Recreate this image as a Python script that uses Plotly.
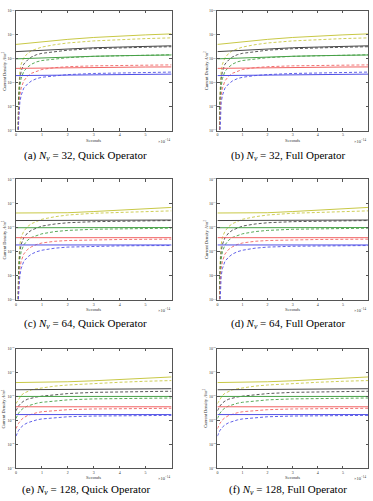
import plotly.graph_objects as go

# ---------------- data (time in units of 1e-14 s) ----------------
t_solid = [0, 1, 2, 3, 4, 5, 6]
t_dash_early = [0.07, 0.1, 0.15, 0.2, 0.3, 0.45, 0.6, 0.8, 1.0, 1.5, 2, 3, 4, 5, 6]
t_dash_128 = [0, 0.1, 0.2, 0.3, 0.45, 0.6, 0.8, 1.0, 1.5, 2, 3, 4, 5, 6]

# N_v = 32
n32_solid_yellow = [4.0e16, 5.2e16, 6.5e16, 7.8e16, 9.0e16, 1.0e17, 1.1e17]
n32_solid_black = [2.0e16, 2.3e16, 2.6e16, 2.9e16, 3.1e16, 3.3e16, 3.5e16]
n32_solid_green = [1.0e16, 1.1e16, 1.2e16, 1.28e16, 1.35e16, 1.4e16, 1.45e16]
n32_solid_red = [4.0e15, 4.15e15, 4.3e15, 4.4e15, 4.5e15, 4.55e15, 4.6e15]
n32_solid_blue = [2.0e15, 2.07e15, 2.13e15, 2.18e15, 2.22e15, 2.26e15, 2.3e15]
n32_dash_yellow = [1e12, 4e14, 3e15, 6e15, 1.1e16, 1.7e16, 2.2e16, 2.7e16, 3.1e16, 3.9e16, 4.6e16, 5.6e16, 6.4e16, 7.0e16, 7.5e16]
n32_dash_black = [1e12, 2e14, 1.5e15, 3e15, 6e15, 9e15, 1.2e16, 1.5e16, 1.7e16, 2.0e16, 2.3e16, 2.65e16, 2.9e16, 3.05e16, 3.2e16]
n32_dash_green = [1e12, 1e14, 7e14, 1.5e15, 3e15, 4.5e15, 6e15, 7.5e15, 8.5e15, 1.0e16, 1.12e16, 1.27e16, 1.36e16, 1.42e16, 1.48e16]
n32_dash_red = [1e12, 4e13, 3e14, 6e14, 1.2e15, 1.9e15, 2.5e15, 3.1e15, 3.6e15, 4.3e15, 4.7e15, 5.1e15, 5.3e15, 5.5e15, 5.6e15]
n32_dash_blue = [1e12, 2e13, 1.5e14, 3e14, 6e14, 9e14, 1.2e15, 1.5e15, 1.7e15, 2.0e15, 2.2e15, 2.45e15, 2.6e15, 2.7e15, 2.8e15]

# N_v = 64
n64_solid_yellow = [4.0e16, 4.0e16, 4.1e16, 4.6e16, 5.3e16, 6.0e16, 6.8e16]
n64_solid_black = [1.95e16, 1.95e16, 1.97e16, 2.0e16, 2.02e16, 2.04e16, 2.05e16]
n64_solid_green = [9.8e15, 9.8e15, 9.8e15, 9.9e15, 9.9e15, 1.0e16, 1.0e16]
n64_solid_red = [3.8e15, 3.8e15, 3.8e15, 3.8e15, 3.8e15, 3.8e15, 3.8e15]
n64_solid_blue = [1.9e15, 1.9e15, 1.9e15, 1.9e15, 1.9e15, 1.9e15, 1.9e15]
n64_dash_yellow = [1e12, 3e14, 2e15, 4e15, 7e15, 1.1e16, 1.45e16, 1.85e16, 2.2e16, 2.8e16, 3.3e16, 3.9e16, 4.3e16, 4.7e16, 4.9e16]
n64_dash_black = [1e12, 1.5e14, 1e15, 2e15, 3.8e15, 6e15, 7.8e15, 9.8e15, 1.15e16, 1.4e16, 1.58e16, 1.75e16, 1.85e16, 1.9e16, 1.95e16]
n64_dash_green = [1e12, 7e13, 5e14, 1e15, 1.9e15, 3e15, 3.9e15, 4.8e15, 5.5e15, 6.8e15, 7.6e15, 8.5e15, 8.9e15, 9.2e15, 9.4e15]
n64_dash_red = [1e12, 3e13, 2e14, 4e14, 8e14, 1.25e15, 1.6e15, 2.0e15, 2.3e15, 2.7e15, 2.9e15, 3.1e15, 3.2e15, 3.25e15, 3.3e15]
n64_dash_blue = [1e12, 1.5e13, 1e14, 2e14, 4e14, 6e14, 8e14, 1.0e15, 1.15e15, 1.4e15, 1.55e15, 1.68e15, 1.74e15, 1.78e15, 1.8e15]

# N_v = 128
n128_solid_yellow = [3.8e16, 3.9e16, 4.1e16, 4.5e16, 5.1e16, 5.8e16, 6.5e16]
n128_solid_black = [1.9e16, 1.95e16, 2.0e16, 2.03e16, 2.06e16, 2.08e16, 2.1e16]
n128_solid_green = [1.0e16, 1.0e16, 1.0e16, 1.0e16, 1.0e16, 1.0e16, 1.0e16]
n128_solid_red = [3.7e15, 3.7e15, 3.7e15, 3.7e15, 3.7e15, 3.7e15, 3.7e15]
n128_solid_blue = [1.75e15, 1.75e15, 1.75e15, 1.75e15, 1.75e15, 1.75e15, 1.75e15]
n128_dash_yellow = [5e15, 8e15, 1.1e16, 1.35e16, 1.65e16, 1.9e16, 2.1e16, 2.3e16, 2.7e16, 3.0e16, 3.5e16, 3.9e16, 4.3e16, 4.6e16]
n128_dash_black = [2.5e15, 4e15, 5.3e15, 6.4e15, 7.7e15, 8.6e15, 9.5e15, 1.03e16, 1.2e16, 1.32e16, 1.48e16, 1.57e16, 1.62e16, 1.65e16]
n128_dash_green = [1.2e15, 2e15, 2.7e15, 3.3e15, 4e15, 4.6e15, 5.2e15, 5.7e15, 6.6e15, 7.2e15, 7.9e15, 8.3e15, 8.5e15, 8.6e15]
n128_dash_red = [4.5e14, 7.5e14, 1.05e15, 1.3e15, 1.6e15, 1.85e15, 2.1e15, 2.3e15, 2.6e15, 2.8e15, 3.0e15, 3.1e15, 3.15e15, 3.2e15]
n128_dash_blue = [2.2e14, 3.8e14, 5.2e14, 6.5e14, 8e14, 9.2e14, 1.05e15, 1.15e15, 1.32e15, 1.42e15, 1.52e15, 1.57e15, 1.6e15, 1.62e15]

x_tick_vals = [0, 1, 2, 3, 4, 5]
y_tick_vals = [1e13, 1e14, 1e15, 1e16, 1e17, 1e18]
y_tick_text = ["10<sup>13</sup>", "10<sup>14</sup>", "10<sup>15</sup>", "10<sup>16</sup>", "10<sup>17</sup>", "10<sup>18</sup>"]

captions = [
    "(a) <i>N</i><sub><i>v</i></sub> = 32, Quick Operator",
    "(b) <i>N</i><sub><i>v</i></sub> = 32, Full Operator",
    "(c) <i>N</i><sub><i>v</i></sub> = 64, Quick Operator",
    "(d) <i>N</i><sub><i>v</i></sub> = 64, Full Operator",
    "(e) <i>N</i><sub><i>v</i></sub> = 128, Quick Operator",
    "(f) <i>N</i><sub><i>v</i></sub> = 128, Full Operator",
]

datasets = {
    32: (n32_solid_yellow, n32_solid_black, n32_solid_green, n32_solid_red, n32_solid_blue,
         n32_dash_yellow, n32_dash_black, n32_dash_green, n32_dash_red, n32_dash_blue, t_dash_early),
    64: (n64_solid_yellow, n64_solid_black, n64_solid_green, n64_solid_red, n64_solid_blue,
         n64_dash_yellow, n64_dash_black, n64_dash_green, n64_dash_red, n64_dash_blue, t_dash_early),
    128: (n128_solid_yellow, n128_solid_black, n128_solid_green, n128_solid_red, n128_solid_blue,
          n128_dash_yellow, n128_dash_black, n128_dash_green, n128_dash_red, n128_dash_blue, t_dash_128),
}
panel_N = [32, 32, 64, 64, 128, 128]

colors = ["rgb(200,200,70)", "rgb(70,70,70)", "rgb(70,160,70)", "rgb(240,100,100)", "rgb(80,80,230)"]

# ---------------- layout geometry (pixels) ----------------
W, H = 373, 501
col_x = [(15, 171), (217, 368)]
row_y = [(8, 129), (178, 300), (349, 470)]
cap_x = [85, 288]
cap_y = [155, 324, 492]

fig = go.Figure()
font_family = "Liberation Serif, DejaVu Serif, serif"
layout = dict(width=W, height=H, margin=dict(l=0, r=0, t=0, b=0),
              paper_bgcolor="white", plot_bgcolor="white", showlegend=False,
              font=dict(family=font_family, color="black"))
annotations = []

for i in range(6):
    r, c = divmod(i, 2)
    idx = "" if i == 0 else str(i + 1)
    x0, x1 = col_x[c]
    y0, y1 = row_y[r]
    d = datasets[panel_N[i]]
    solids = d[0:5]
    dashes = d[5:10]
    tdash = d[10]
    for k in range(5):
        fig.add_trace(go.Scatter(x=tdash, y=dashes[k], mode="lines", xaxis="x" + idx, yaxis="y" + idx,
                                 line=dict(color=colors[k], width=0.9, dash="3px,2px"), hoverinfo="skip"))
    for k in range(5):
        fig.add_trace(go.Scatter(x=t_solid, y=solids[k], mode="lines", xaxis="x" + idx, yaxis="y" + idx,
                                 line=dict(color=colors[k], width=1.0), hoverinfo="skip"))
    axcommon = dict(showline=True, linecolor="#555", linewidth=0.7, mirror="ticks", ticks="inside",
                    ticklen=2.5, tickwidth=0.6, tickcolor="#555", showgrid=False, zeroline=False,
                    tickfont=dict(size=4, family=font_family, color="#333"))
    layout["xaxis" + idx] = dict(axcommon, domain=[x0 / W, x1 / W], range=[0, 6], tickvals=x_tick_vals,
                                 anchor="y" + idx)
    layout["yaxis" + idx] = dict(axcommon, domain=[1 - y1 / H, 1 - y0 / H], type="log", range=[13, 18],
                                 tickvals=y_tick_vals, ticktext=y_tick_text, anchor="x" + idx)
    # axis titles
    annotations.append(dict(text="Seconds", x=(x0 + x1) / 2 / W, y=1 - (y1 + 9.5) / H, xref="paper", yref="paper",
                            showarrow=False, font=dict(size=4.5, color="#333"), xanchor="center", yanchor="middle"))
    annotations.append(dict(text="×10<sup>−14</sup>", x=x1 / W, y=1 - (y1 + 10) / H, xref="paper", yref="paper",
                            showarrow=False, font=dict(size=4.5, color="#333"), xanchor="right", yanchor="middle"))
    annotations.append(dict(text="Current Density <i>A</i>/<i>m</i><sup>2</sup>", x=(x0 - 12) / W,
                            y=1 - (y0 + y1) / 2 / H, xref="paper", yref="paper", textangle=-90,
                            showarrow=False, font=dict(size=4.5, color="#333"), xanchor="center", yanchor="middle"))
    annotations.append(dict(text=captions[i], x=cap_x[c] / W, y=1 - cap_y[r] / H, xref="paper", yref="paper",
                            showarrow=False, font=dict(size=11), xanchor="center", yanchor="middle"))

layout["annotations"] = annotations
fig.update_layout(**layout)
fig.write_html("out.html")
